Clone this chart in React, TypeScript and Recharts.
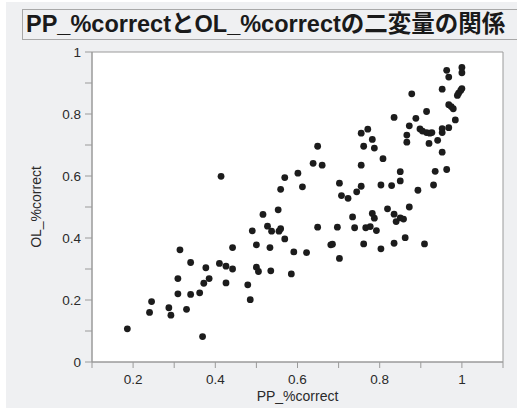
import React from 'react';
import { ScatterChart, Scatter, XAxis, YAxis, ReferenceArea } from 'recharts';

const titleText = 'PP_%correctとOL_%correctの二変量の関係';
const xTitle = 'PP_%correct';
const yTitle = 'OL_%correct';

const ppCorrect = [
  0.186, 0.240, 0.245, 0.287, 0.292, 0.309, 0.309, 0.314, 0.330, 0.340,
  0.340, 0.362, 0.369, 0.372, 0.377, 0.385, 0.410, 0.414, 0.426, 0.426,
  0.442, 0.442, 0.479, 0.485, 0.490, 0.500, 0.500, 0.505, 0.516, 0.527,
  0.533, 0.537, 0.535, 0.553, 0.555, 0.559, 0.559, 0.569, 0.569, 0.585,
  0.591, 0.601, 0.612, 0.622, 0.638, 0.649, 0.649, 0.660, 0.681, 0.685,
  0.697, 0.702, 0.702, 0.707, 0.723, 0.734, 0.739, 0.744, 0.755, 0.755,
  0.755, 0.761, 0.761, 0.766, 0.771, 0.777, 0.782, 0.782, 0.787, 0.787,
  0.792, 0.803, 0.803, 0.808, 0.819, 0.829, 0.835, 0.835, 0.835, 0.840,
  0.850, 0.850, 0.850, 0.858, 0.862, 0.866, 0.866, 0.872, 0.872, 0.878,
  0.888, 0.893, 0.898, 0.904, 0.909, 0.914, 0.914, 0.920, 0.922, 0.927,
  0.931, 0.935, 0.941, 0.952, 0.952, 0.952, 0.952, 0.963, 0.963, 0.968,
  0.968, 0.968, 0.974, 0.979, 0.984, 0.989, 0.992, 0.997, 1.000, 1.000,
  1.000,
];

const olCorrect = [
  0.107, 0.160, 0.195, 0.175, 0.151, 0.269, 0.220, 0.362, 0.170, 0.321,
  0.218, 0.223, 0.082, 0.254, 0.304, 0.269, 0.318, 0.599, 0.309, 0.255,
  0.300, 0.369, 0.249, 0.201, 0.423, 0.378, 0.306, 0.292, 0.476, 0.438,
  0.369, 0.422, 0.294, 0.491, 0.422, 0.430, 0.557, 0.595, 0.397, 0.284,
  0.355, 0.609, 0.565, 0.353, 0.641, 0.696, 0.435, 0.635, 0.378, 0.380,
  0.435, 0.577, 0.334, 0.537, 0.528, 0.468, 0.433, 0.549, 0.738, 0.635,
  0.567, 0.696, 0.381, 0.433, 0.751, 0.437, 0.718, 0.479, 0.690, 0.464,
  0.424, 0.571, 0.365, 0.656, 0.494, 0.569, 0.789, 0.477, 0.383, 0.453,
  0.584, 0.614, 0.465, 0.461, 0.401, 0.732, 0.709, 0.762, 0.500, 0.865,
  0.786, 0.554, 0.752, 0.745, 0.381, 0.808, 0.740, 0.705, 0.738, 0.740,
  0.571, 0.615, 0.715, 0.880, 0.753, 0.740, 0.677, 0.941, 0.621, 0.919,
  0.830, 0.756, 0.824, 0.817, 0.781, 0.860, 0.867, 0.876, 0.882, 0.950,
  0.933,
];

const xTicks = [0.1, 0.2, 0.3, 0.4, 0.5, 0.6, 0.7, 0.8, 0.9, 1.0, 1.1];
const xTickLabels = ['', '0.2', '', '0.4', '', '0.6', '', '0.8', '', '1', ''];
const yTicks = [0, 0.1, 0.2, 0.3, 0.4, 0.5, 0.6, 0.7, 0.8, 0.9, 1.0];
const yTickLabels = ['0', '', '0.2', '', '0.4', '', '0.6', '', '0.8', '', '1'];

const data = ppCorrect.map((x, i) => ({ x, y: olCorrect[i] }));

const FONT = '"Liberation Sans", Arial, "Noto Sans CJK JP", sans-serif';
const AXIS = '#9a9a9a';
const TEXT = '#2a2a2a';

const Dot = (props: any) => (
  <circle cx={props.cx} cy={props.cy} r={3.4} fill="#1c1c1c" />
);

export default function App() {
  return (
    <div style={{ position: 'absolute', left: 0, top: 0, width: 517, height: 410, background: '#ffffff', fontFamily: FONT }}>
      <div style={{ position: 'absolute', left: 6, top: 2, width: 511, height: 406, background: '#eff0f2' }} />
      <div
        style={{
          position: 'absolute', left: 22, top: 9, width: 500, height: 31,
          border: '1px solid #a8a8a8', borderRight: 'none', boxSizing: 'border-box',
        }}
      />
      <div
        style={{
          position: 'absolute', left: 26, top: 8, height: 33, lineHeight: '33px',
          fontSize: 23.5, fontWeight: 'bold', color: '#1a1a1a', whiteSpace: 'nowrap',
          fontFamily: FONT,
        }}
      >
        {titleText}
      </div>
      <div style={{ position: 'absolute', left: 0, top: 0 }}>
        <ScatterChart width={517} height={410} margin={{ top: 52, right: 14, bottom: 8, left: 32 }}>
          <ReferenceArea x1={0.1} x2={1.1} y1={0} y2={1} fill="#ffffff" fillOpacity={1} stroke={AXIS} strokeWidth={1} ifOverflow="visible" />
          <XAxis
            type="number"
            dataKey="x"
            domain={[0.1, 1.1]}
            ticks={xTicks}
            interval={0}
            allowDataOverflow
            tickFormatter={(v: number) => xTickLabels[xTicks.findIndex((t) => Math.abs(t - v) < 1e-6)] ?? ''}
            height={40}
            tickSize={6}
            tickMargin={6}
            stroke={AXIS}
            tick={{ fill: TEXT, fontSize: 13.5, fontFamily: FONT }}
            label={{ value: xTitle, position: 'insideBottom', offset: 1, fill: TEXT, fontSize: 14, fontFamily: FONT }}
          />
          <YAxis
            type="number"
            dataKey="y"
            domain={[0, 1]}
            ticks={yTicks}
            interval={0}
            allowDataOverflow
            tickFormatter={(v: number) => yTickLabels[yTicks.findIndex((t) => Math.abs(t - v) < 1e-6)] ?? ''}
            width={60}
            tickSize={7}
            tickMargin={4}
            stroke={AXIS}
            tick={{ fill: TEXT, fontSize: 13.5, fontFamily: FONT }}
            label={{ value: yTitle, angle: -90, position: 'insideLeft', offset: 4, fill: TEXT, fontSize: 14, fontFamily: FONT, style: { textAnchor: 'middle' } }}
          />
          <Scatter data={data} isAnimationActive={false} shape={<Dot />} />
        </ScatterChart>
      </div>
    </div>
  );
}
